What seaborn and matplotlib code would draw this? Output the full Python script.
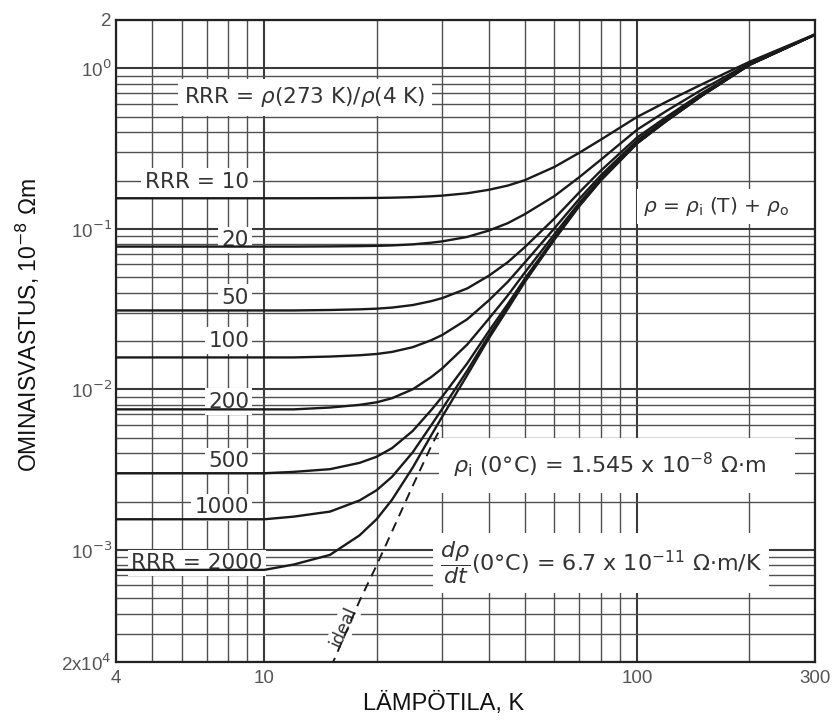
import numpy as np
import pandas as pd
import matplotlib
matplotlib.use("Agg")
import matplotlib.pyplot as plt
import seaborn as sns
from matplotlib.ticker import FixedLocator, FixedFormatter, NullFormatter

# ---------------- data ----------------
T = [4, 8, 10, 12, 15, 18, 20, 22, 25, 28, 30, 35, 40, 45, 50, 60, 70, 80, 100, 120, 150, 200, 300]

rho_rrr10 = [0.155, 0.155, 0.155, 0.155, 0.1552, 0.1555, 0.1558, 0.1563, 0.1575, 0.1594, 0.161, 0.1665,
             0.175, 0.186, 0.201, 0.243, 0.298, 0.360, 0.498, 0.620, 0.800, 1.097, 1.628]
rho_rrr20 = [0.0775, 0.0775, 0.0775, 0.0775, 0.0777, 0.078, 0.0783, 0.0788, 0.080, 0.0819, 0.0835, 0.089,
             0.0975, 0.1085, 0.1235, 0.1600, 0.2100, 0.2700, 0.4150, 0.5436, 0.742, 1.073, 1.624]
rho_rrr50 = [0.031, 0.031, 0.031, 0.031, 0.0312, 0.0315, 0.0318, 0.0323, 0.0335, 0.0354, 0.037, 0.0425,
             0.051, 0.062, 0.077, 0.116, 0.169, 0.231, 0.371, 0.499, 0.705, 1.059, 1.622]
rho_rrr100 = [0.0158, 0.0158, 0.0158, 0.0158, 0.016, 0.0163, 0.0166, 0.0171, 0.0183, 0.0202, 0.0218, 0.0273,
              0.0358, 0.0468, 0.0618, 0.1008, 0.1538, 0.2158, 0.3558, 0.485, 0.693, 1.055, 1.621]
rho_rrr200 = [0.0075, 0.0075, 0.0075, 0.0075, 0.0077, 0.008, 0.0083, 0.0088, 0.010, 0.0119, 0.0135, 0.019,
              0.0275, 0.0385, 0.0535, 0.0925, 0.1455, 0.2075, 0.3475, 0.477, 0.686, 1.052, 1.620]
rho_rrr500 = [0.0030, 0.0030, 0.0030, 0.00306, 0.00318, 0.00348, 0.0038, 0.0043, 0.0055, 0.0074, 0.009, 0.0145,
              0.023, 0.034, 0.049, 0.088, 0.141, 0.203, 0.343, 0.473, 0.682, 1.051, 1.620]
rho_rrr1000 = [0.00155, 0.00155, 0.00155, 0.00161, 0.00173, 0.00203, 0.00235, 0.00285, 0.00405, 0.00595, 0.00755,
               0.01305, 0.0216, 0.0326, 0.0476, 0.0866, 0.1396, 0.2016, 0.3416, 0.4715, 0.681, 1.050, 1.620]
rho_rrr2000 = [0.00075, 0.00075, 0.00075, 0.00081, 0.00093, 0.00123, 0.00155, 0.00205, 0.00325, 0.00515, 0.00675,
               0.01225, 0.02075, 0.03175, 0.04675, 0.08575, 0.13875, 0.20075, 0.34075, 0.4707, 0.6806, 1.050, 1.620]

ideal_T = [14.5, 15, 18, 20, 22, 25, 28, 30]
ideal_rho = [0.00015, 0.00018, 0.00048, 0.0008, 0.0013, 0.0025, 0.0044, 0.006]

rrr_labels = ["10", "20", "50", "100", "200", "500", "1000", "2000"]
series = [rho_rrr10, rho_rrr20, rho_rrr50, rho_rrr100, rho_rrr200, rho_rrr500, rho_rrr1000, rho_rrr2000]

x_ticks = [4, 10, 100, 300]
x_ticklabels = ["4", "10", "100", "300"]
y_ticks = [2e-4, 1e-3, 1e-2, 1e-1, 1.0, 2.0]
y_ticklabels = ["2x10$^{4}$", "10$^{-3}$", "10$^{-2}$", "10$^{-1}$", "10$^{0}$", "2"]

# ---------------- figure ----------------
sns.set_style("white")
plt.rcParams["font.family"] = ["Liberation Sans", "DejaVu Sans"]
plt.rcParams["mathtext.fontset"] = "dejavusans"

fig = plt.figure(figsize=(8.32, 7.25), dpi=100)
ax = fig.add_axes([116 / 832, 1 - 662 / 725, (815 - 116) / 832, (662 - 20) / 725])

df = pd.concat([pd.DataFrame({"T": T, "rho": s, "RRR": lab}) for s, lab in zip(series, rrr_labels)],
               ignore_index=True)
sns.lineplot(data=df, x="T", y="rho", hue="RRR", palette=["#1a1a1a"] * len(rrr_labels),
             legend=False, linewidth=1.7, ax=ax, zorder=5, estimator=None)
sns.lineplot(x=ideal_T, y=ideal_rho, color="#1a1a1a", linewidth=1.4, ax=ax, zorder=5,
             linestyle=(0, (5, 3.5)), estimator=None)

ax.set_xscale("log")
ax.set_yscale("log")
ax.set_xlim(4, 300)
ax.set_ylim(2e-4, 2)

ax.xaxis.set_major_locator(FixedLocator(x_ticks))
ax.xaxis.set_major_formatter(FixedFormatter(x_ticklabels))
ax.xaxis.set_minor_locator(FixedLocator([5, 6, 7, 8, 9, 20, 30, 40, 50, 60, 70, 80, 90, 200]))
ax.xaxis.set_minor_formatter(NullFormatter())
ax.yaxis.set_major_locator(FixedLocator(y_ticks))
ax.yaxis.set_major_formatter(FixedFormatter(y_ticklabels))
ymin = [m * 10.0 ** e for e in (-4, -3, -2, -1) for m in range(2, 10)]
ax.yaxis.set_minor_locator(FixedLocator([v for v in ymin if v > 2.1e-4]))
ax.yaxis.set_minor_formatter(NullFormatter())

ax.grid(True, which="major", color="#3a3a3a", linewidth=1.5)
ax.grid(True, which="minor", color="#505050", linewidth=1.0)
ax.set_axisbelow(True)
ax.tick_params(which="both", length=0)
ax.tick_params(axis="x", labelsize=13.5, labelcolor="#555555", pad=6)
ax.tick_params(axis="y", labelsize=13.5, labelcolor="#555555", pad=3)
for sp in ax.spines.values():
    sp.set_color("#222222")
    sp.set_linewidth(1.6)

ax.set_xlabel("LÄMPÖTILA, K", fontsize=17, color="#111111")
ax.set_ylabel("OMINAISVASTUS, 10$^{-8}$ Ωm", fontsize=16.5, color="#111111")
ax.xaxis.set_label_coords(0.468, -0.046)
ax.yaxis.set_label_coords(-0.106, 0.525)

tc = "#333333"
def label(x, y, s, ha="left", pad=0.15, fs=15.5, rot=0):
    ax.text(x, y, s, ha=ha, va="center", fontsize=fs, color=tc, zorder=4, rotation=rot,
            family=["DejaVu Sans"],
            bbox=dict(boxstyle=f"square,pad={pad}", facecolor="white", edgecolor="none"))

label(6.1, 0.66, r"RRR = $\rho$(273 K)/$\rho$(4 K)", pad=0.3, fs=15.5)
label(9.1, 0.195, "RRR = 10", ha="right", pad=0.2)
label(9.1, 0.0852, "20", ha="right")
label(9.1, 0.0373, "50", ha="right")
label(9.1, 0.0201, "100", ha="right")
label(9.1, 0.00838, "200", ha="right")
label(9.1, 0.00357, "500", ha="right")
label(9.1, 0.00184, "1000", ha="right")
label(9.9, 0.000826, "RRR = 2000", ha="right")
label(104, 0.137, r"$\rho$ = $\rho_{\rm i}$ (T) + $\rho_{\rm o}$", pad=0.3, fs=14.5)
label(32, 0.00335, r"$\rho_{\rm i}$ (0°C) = 1.545 x 10$^{-8}$ Ω·m   ", pad=0.6, fs=16)
label(29.6, 0.00083, r"$\dfrac{d\rho}{dt}$(0°C) = 6.7 x 10$^{-11}$ Ω·m/K", pad=0.3, fs=16)
label(16.3, 0.00033, "ideal", rot=66, fs=12.5, ha="center", pad=0.1)

fig.savefig("out.png", dpi=100, facecolor="white")
